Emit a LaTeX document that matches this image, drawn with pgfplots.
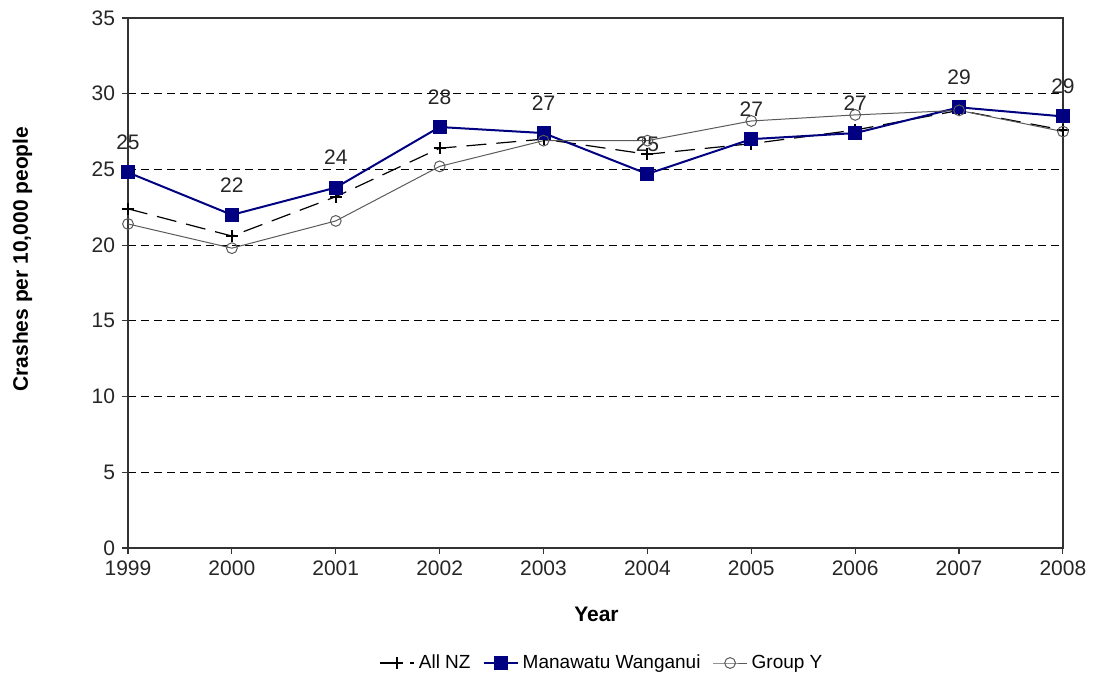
\documentclass[border=0pt]{standalone}
\usepackage{pgfplots}
\pgfplotsset{compat=1.18}
\usepackage{fontspec}
\setmainfont{Liberation Sans}
\definecolor{mwblue}{RGB}{0,0,128}
\definecolor{grpgray}{RGB}{90,90,90}
\begin{document}
\begin{tikzpicture}
\useasboundingbox (-64pt,-66pt) rectangle (485pt,274pt);
\begin{axis}[
  at={(0,0)}, anchor=south west,
  scale only axis,
  width=467.5pt, height=265pt,
  xmin=1999, xmax=2008,
  ymin=0, ymax=35,
  xtick={1999,...,2008},
  ytick={0,5,...,35},
  xtick pos=bottom, ytick pos=left,
  xticklabel style={/pgf/number format/1000 sep={}},
  /pgf/number format/assume math mode=true,
  tick label style={font=\fontsize{10.5}{12}\selectfont, text=black!85},
  tick align=outside,
  major tick length=3pt,
  axis line style={black!80, line width=0.6pt},
  every tick/.style={black!80, line width=0.6pt},
  ymajorgrids,
  major grid style={black, dash pattern=on 4pt off 2.5pt, line width=0.6pt},
  xlabel={\textbf{Year}},
  ylabel={\textbf{Crashes per 10,000 people}},
  label style={font=\fontsize{10.5}{12}\selectfont},
  xlabel style={at={(axis description cs:0.501,-0.126)}, anchor=center},
  ylabel style={at={(axis description cs:-0.113,0.545)}, anchor=center},
  legend columns=3,
  legend style={at={(axis description cs:0.508,-0.217)}, anchor=center,
    draw=none, font=\fontsize{9.5}{11}\selectfont,
    /tikz/every even column/.append style={column sep=4pt}},
  legend cell align=left,
  clip=false,
]
\addplot[black, line width=0.6pt, dash pattern=on 10pt off 5pt,
  mark=+, mark size=3pt, mark options={solid, line width=1pt}]
  coordinates {(1999,22.4) (2000,20.6) (2001,23.2) (2002,26.4) (2003,27.0)
               (2004,26.0) (2005,26.7) (2006,27.6) (2007,28.9) (2008,27.6)};
\addlegendentry{All NZ}
\addplot[mwblue, line width=1pt, mark=square*, mark size=3pt,
  mark options={solid, fill=mwblue},
  nodes near coords, point meta=explicit symbolic,
  every node near coord/.style={anchor=center, yshift=15pt, text=black!85,
    font=\fontsize{10.5}{12}\selectfont}]
  coordinates {(1999,24.8)[25] (2000,22.0)[22] (2001,23.8)[24] (2002,27.8)[28]
               (2003,27.4)[27] (2004,24.7)[25] (2005,27.0)[27] (2006,27.4)[27]
               (2007,29.1)[29] (2008,28.5)[29]};
\addlegendentry{Manawatu Wanganui}
\addplot[grpgray, line width=0.5pt, mark=o, mark size=2.7pt,
  mark options={solid, fill=white}]
  coordinates {(1999,21.4) (2000,19.8) (2001,21.6) (2002,25.2) (2003,26.9)
               (2004,26.9) (2005,28.2) (2006,28.6) (2007,28.9) (2008,27.5)};
\addlegendentry{Group Y}
\end{axis}
\end{tikzpicture}
\end{document}
